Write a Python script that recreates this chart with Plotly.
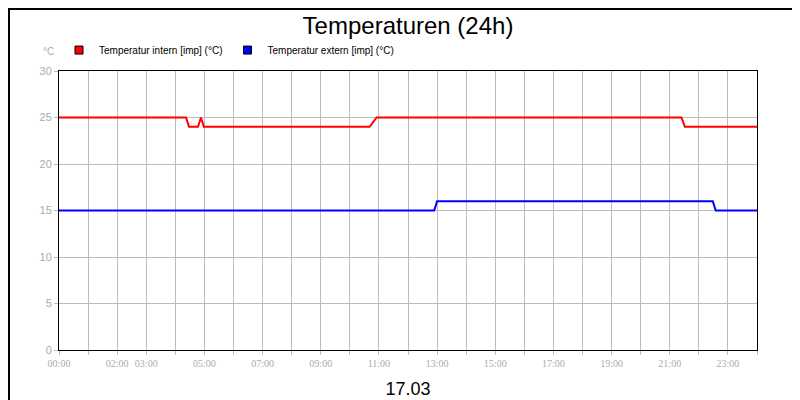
import plotly.graph_objects as go

# hours of day (17.03)
int_x = [0, 4.37, 4.47, 4.78, 4.88, 4.98, 10.68, 10.92, 21.4, 21.52, 24]
int_y = [25, 25, 24, 24, 25, 24, 24, 25, 25, 24, 24]
ext_x = [0, 12.9, 13.0, 22.48, 22.58, 24]
ext_y = [15, 15, 16, 16, 15, 15]
tick_hours = list(range(0, 25))
tick_labels = {0: "00:00", 2: "02:00", 3: "03:00", 5: "05:00", 7: "07:00", 9: "09:00", 11: "11:00",
               13: "13:00", 15: "15:00", 17: "17:00", 19: "19:00", 21: "21:00", 23: "23:00"}
names = ["Temperatur intern [imp] (°C)", "Temperatur extern [imp] (°C)"]
colors = ["#ff0000", "#0000ff"]

fig = go.Figure()
for xs, ys, n, c in [(int_x, int_y, names[0], colors[0]), (ext_x, ext_y, names[1], colors[1])]:
    fig.add_trace(go.Scatter(x=xs, y=ys, mode="lines", line=dict(color=c, width=2), showlegend=False))
for n, c in zip(names, colors):
    fig.add_trace(go.Scatter(x=[None], y=[None], mode="markers", name=n,
                             marker=dict(symbol="square", size=8, color=c, line=dict(color="black", width=1))))
gray = "#bbbbbb"
fig.update_layout(
    width=800, height=400, paper_bgcolor="white", plot_bgcolor="white",
    margin=dict(l=51, r=51, t=63, b=58, autoexpand=False),
    font=dict(family="Liberation Sans", size=10, color="black"),
    title=dict(text="Temperaturen (24h)", x=0.5, xanchor="center", y=0.955, yanchor="middle",
               font=dict(size=24, family="Liberation Sans")),
    legend=dict(orientation="h", x=0.0, xanchor="left", y=1.075, yanchor="middle",
                font=dict(size=10), bgcolor="rgba(0,0,0,0)", itemwidth=30),
    xaxis=dict(range=[0, 24], tickvals=tick_hours, tickangle=0, automargin=False,
               ticktext=[tick_labels.get(h, "") for h in tick_hours],
               showgrid=True, gridcolor=gray, gridwidth=1, ticks="outside", ticklen=4,
               tickcolor=gray, tickfont=dict(color="#aaaaaa", size=10, family="Liberation Sans Narrow"),
               showline=True, linecolor="black", linewidth=1, mirror=True, zeroline=False,
               title=dict(text="17.03", font=dict(size=18, color="black"), standoff=14)),
    yaxis=dict(range=[0, 30], tickvals=[0, 5, 10, 15, 20, 25, 30], showgrid=True, gridcolor=gray,
               automargin=False,
               ticks="outside", ticklen=4, tickcolor=gray, tickfont=dict(color="#aaaaaa", size=11),
               showline=True, linecolor="black", linewidth=1, mirror=True, zeroline=False),
    annotations=[dict(text="°C", xref="paper", yref="paper", x=-0.005, y=1.07, xanchor="right",
                      yanchor="middle", showarrow=False, font=dict(color="#aaaaaa", size=10))],
    shapes=[dict(type="rect", xref="paper", yref="paper", x0=-50/698, x1=1+50/698,
                 y0=-57/279, y1=1+62/279, line=dict(color="black", width=2))],
)
fig.write_html("out.html")
